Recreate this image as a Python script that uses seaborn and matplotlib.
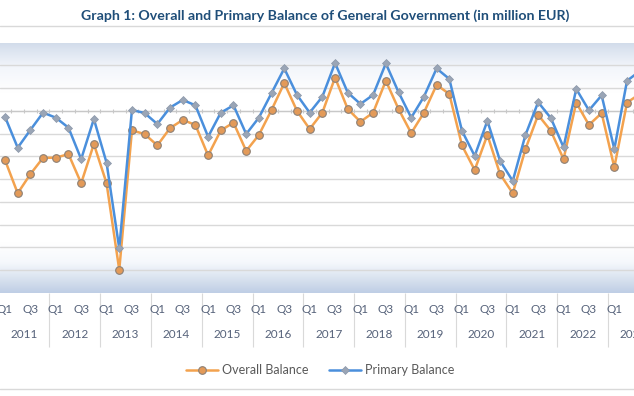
import numpy as np
import pandas as pd
import matplotlib
matplotlib.use("Agg")
import matplotlib.pyplot as plt
from matplotlib.colors import LinearSegmentedColormap
import seaborn as sns

# Datos trimestrales (2011 Q1 - 2023 Q3), lectura aproximada del grafico
quarters = ["Q1", "Q2", "Q3", "Q4"]
years = [str(y) for y in range(2011, 2024)]
overall_balance = [-108, -181, -139, -103, -103, -95, -159, -73,
                   -159, -349, -43, -51, -76, -38, -20, -31,
                   -98, -43, -26, -88, -53, 2, 61, 0,
                   -40, -4, 73, 4, -24, -4, 66, 4,
                   -49, -4, 57, 37, -76, -130, -53, -139,
                   -181, -84, -9, -44, -106, 18, -31, -5,
                   -124, 18, 37]
primary_balance = [-13, -81, -42, -4, -15, -37, -106, -18,
                   -114, -302, 2, -5, -29, 7, 24, 12,
                   -57, -4, 12, -51, -15, 39, 93, 35,
                   -4, 31, 105, 40, 15, 35, 104, 41,
                   -15, 31, 93, 70, -44, -99, -22, -110,
                   -154, -53, 19, -16, -80, 48, 1, 34,
                   -84, 66, 87]

n = len(overall_balance)
idx = np.arange(n)
q_labels = [quarters[i % 4] for i in idx]
df = pd.DataFrame({"idx": idx, "overall": overall_balance, "primary": primary_balance})

sns.set_style("white")
plt.rcParams["font.family"] = ["Lato", "DejaVu Sans"]

fig = plt.figure(figsize=(6.34, 3.96), dpi=100)
ax = fig.add_axes([0, 1 - 293 / 396, 1, (293 - 42.5) / 396])

# Fondo con degradado (estilo Excel)
grad = LinearSegmentedColormap.from_list("panel", [
    (0.0, "#bfcee5"), (0.04, "#d2ddec"), (0.12, "#f5f8fc"), (0.2, "#ffffff"),
    (0.8, "#ffffff"), (0.9, "#f3f6fb"), (0.97, "#dce4f0"), (1.0, "#d1dbea")])
ax.imshow(np.linspace(0, 1, 256).reshape(-1, 1), cmap=grad, origin="lower",
          extent=[0, 1, 0, 1], transform=ax.transAxes, aspect="auto", zorder=0)

sns.lineplot(data=df, x="idx", y="overall", ax=ax, color="#f3a24e", lw=1.8,
             marker="o", markersize=5.5, markerfacecolor="#e39a58",
             markeredgecolor="#8d8075", markeredgewidth=0.8, label="Overall Balance", zorder=3)
sns.lineplot(data=df, x="idx", y="primary", ax=ax, color="#4a8fdc", lw=1.8,
             marker="D", markersize=3.6, markerfacecolor="#9aa5b6",
             markeredgecolor="#8a96a8", markeredgewidth=0.5, label="Primary Balance", zorder=4)

ax.set_yticks(np.arange(-350, 101, 50))
ax.set_yticklabels([])
ax.tick_params(axis="y", length=0)
ax.grid(axis="y", color="#d9d9d9", lw=1, zorder=1)
ax.grid(axis="x", visible=False)
for s in ax.spines.values():
    s.set_visible(False)

# Eje horizontal en cero con marcas
bounds = np.arange(-0.5, n + 0.5, 1)
ax.axhline(0, color="#c8c8c8", lw=0.9, zorder=1.5)
ax.vlines(bounds, -4, 4, color="#c8c8c8", lw=0.8, zorder=1.5)

# Etiquetas Q1/Q3
lab_col = "#56627a"
major = idx[idx % 2 == 0]
ax.set_xticks(major, [q_labels[i] for i in major])
ax.set_xticks(bounds, minor=True)
ax.tick_params(axis="x", which="major", length=0, pad=8, labelsize=8.5, labelcolor=lab_col)
ax.tick_params(axis="x", which="minor", length=21, width=0.8, color="#d9d9d9", direction="out")
ax.set_xlabel("")
ax.set_ylabel("")

# Segundo nivel: anios
sec = ax.secondary_xaxis("bottom")
sec.set_xticks(np.arange(-0.5, n + 4, 4), [])
sec.set_xticks(np.arange(1.5, 1.5 + 4 * len(years), 4), years, minor=True)
sec.tick_params(which="major", length=39, width=0.8, color="#d9d9d9")
sec.tick_params(which="minor", length=0, pad=26, labelsize=8.5, labelcolor=lab_col)
sec.spines["bottom"].set_visible(False)

# limites al final (set_xticks amplia la vista)
ax.set_xlim(-0.394, 49.55)
ax.set_ylim(-400, 150)

ax.get_legend().remove()
handles, labels = ax.get_legend_handles_labels()
fig.legend(handles, labels, loc="center", bbox_to_anchor=(320 / 634, 1 - 370 / 396),
           ncol=2, frameon=False, fontsize=9, labelcolor="#595959",
           handlelength=2.6, columnspacing=1.6, handletextpad=0.3)

fig.text(325 / 634, 1 - 16 / 396,
         "Graph 1: Overall and Primary Balance of General Government (in million EUR)",
         ha="center", va="center", fontsize=10.2, fontweight="bold", color="#1f4e79")

for yy in (26, 389):
    fig.add_artist(plt.Line2D([0, 1], [1 - yy / 396] * 2, color="#d9d9d9", lw=1,
                              transform=fig.transFigure))

fig.savefig("out.png", dpi=100)
